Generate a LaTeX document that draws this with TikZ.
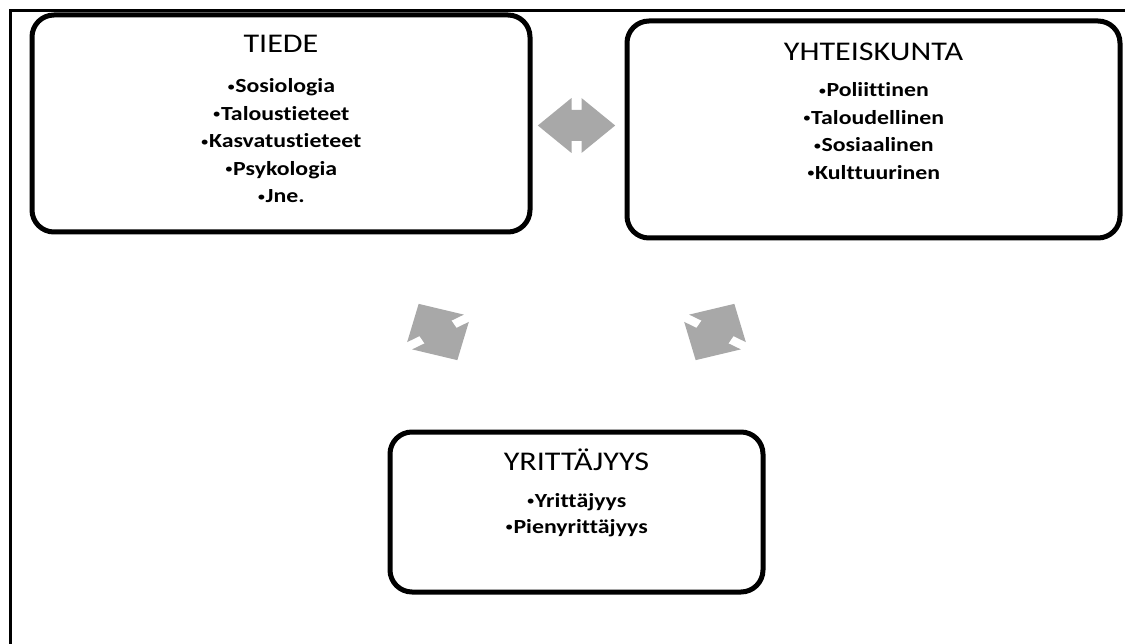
\documentclass[tikz,border=0pt]{standalone}
\usepackage{fontspec}
\usepackage{graphicx}
\setmainfont{Carlito}[Ligatures=NoCommon]
\definecolor{arrowgray}{RGB}{168,168,168}
\newcommand\wide[1]{\scalebox{1.19}[1]{#1}}
\newcommand\bul{{\mdseries\fontsize{14}{14}\selectfont\raisebox{1.6pt}{•}}}
\newcommand\cyclearrow[1]{%
  \begin{scope}[#1]
    \fill[arrowgray] (-32.5,0) -- (-4.2,27.5) -- (-4.2,15.5) -- (4.2,15.5) -- (4.2,27.5)
      -- (32.5,0) -- (4.2,-27.5) -- (4.2,-15.5) -- (-4.2,-15.5) -- (-4.2,-27.5) -- cycle;
  \end{scope}}
\begin{document}
\begin{tikzpicture}[x=1pt,y=-1pt,
  box/.style={draw=black, line width=5pt, rounded corners=22pt, fill=white, inner sep=0pt},
  ttl/.style={anchor=base, inner sep=0pt, font=\fontsize{27}{32}\selectfont},
  itm/.style={anchor=base, inner sep=0pt, font=\bfseries\fontsize{20}{24}\selectfont},
  frameline/.style={line width=2.5pt}]
\useasboundingbox (0,0) rectangle (1125,644);
\draw[frameline] (10.5,644) -- (10.5,10.5) -- (1125,10.5);

% boxes
\node[box, minimum width=498pt, minimum height=217pt] (tiede) at (281,123.5) {};
\node[box, minimum width=493pt, minimum height=217pt] (yht) at (873.5,129.5) {};
\node[box, minimum width=373pt, minimum height=160pt] (yrit) at (576.5,512) {};

% TIEDE text
\node[ttl] (t0) at (281,53) {\wide{TIEDE}};
\node[itm] (t1) at (281,93) {\wide{\bul Sosiologia}};
\node[itm] (t2) at (281,120.5) {\wide{\bul Taloustieteet}};
\node[itm] (t3) at (281,148) {\wide{\bul Kasvatustieteet}};
\node[itm] (t4) at (281,175.5) {\wide{\bul Psykologia}};
\node[itm] (t5) at (281,203) {\wide{\bul Jne.}};

% YHTEISKUNTA text
\node[ttl] (y0) at (873.5,60.5) {\wide{YHTEISKUNTA}};
\node[itm] (y1) at (873.5,97) {\wide{\bul Poliittinen}};
\node[itm] (y2) at (873.5,124.5) {\wide{\bul Taloudellinen}};
\node[itm] (y3) at (873.5,152) {\wide{\bul Sosiaalinen}};
\node[itm] (y4) at (873.5,179.5) {\wide{\bul Kulttuurinen}};

% YRITTAJYYS text
\node[ttl] (r0) at (576.5,470) {\wide{YRITTÄJYYS}};
\node[itm] (r1) at (576.5,507) {\wide{\bul Yrittäjyys}};
\node[itm] (r2) at (576.5,533.5) {\wide{\bul Pienyrittäjyys}};

% cycle arrows
\cyclearrow{shift={(576.5,125.5)}, xscale=1.19}
\cyclearrow{shift={(438,332)}, xscale=1.19, rotate=-60}
\cyclearrow{shift={(715,332)}, xscale=1.19, rotate=60}
\end{tikzpicture}
\end{document}
